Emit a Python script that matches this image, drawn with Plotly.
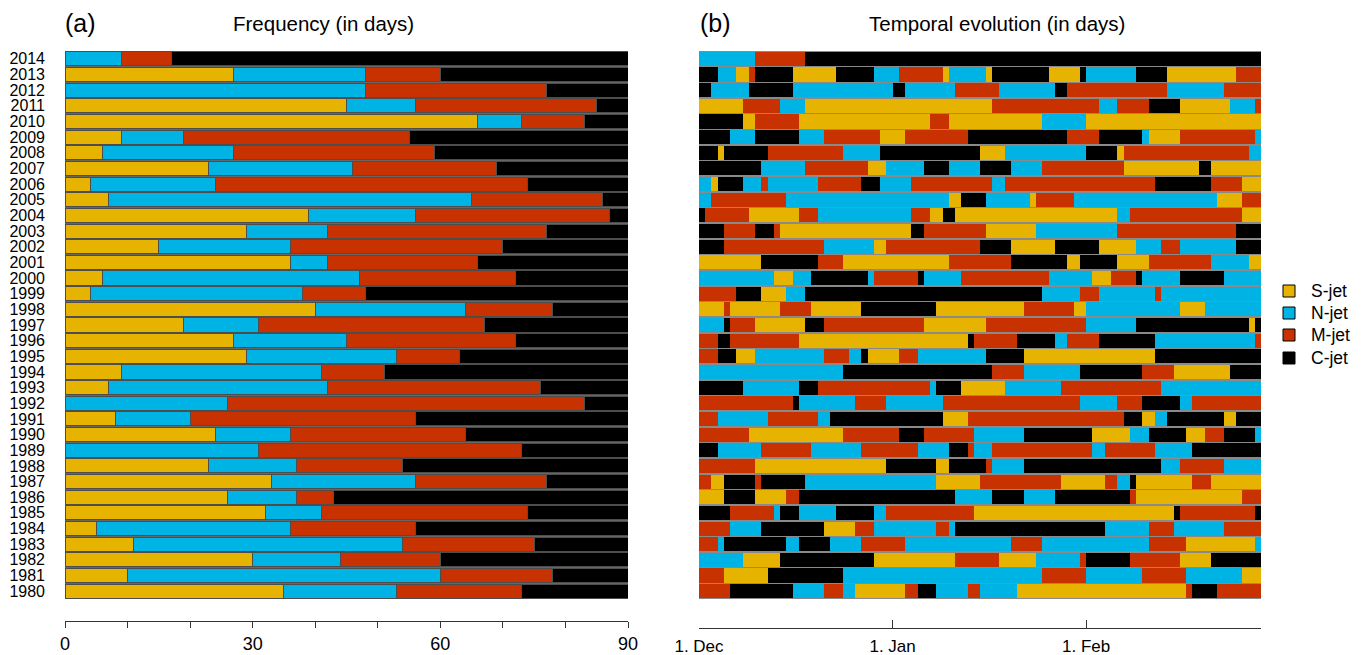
import plotly.graph_objects as go

W, H = 1363, 655

def fx(p):
    return p / W

def fy(p):
    return 1 - p / H

years = list(range(1980, 2015))

jet_names = ["S-jet", "N-jet", "M-jet", "C-jet"]
jet_codes = ["S", "N", "M", "C"]
jet_colors = ["#E6B400", "#00B3E5", "#C83200", "#000000"]

# Panel (a): number of days per jet type, winters 1980..2014
s_days = [35, 10, 30, 11, 5, 32, 26, 33, 23, 0, 24, 8, 0, 7, 9, 29, 27, 19, 40, 4,
          6, 36, 15, 29, 39, 7, 4, 23, 6, 9, 66, 45, 0, 27, 0]
n_days = [18, 50, 14, 43, 31, 9, 11, 23, 14, 31, 12, 12, 26, 35, 32, 24, 18, 12, 24, 34,
          41, 6, 21, 13, 17, 58, 20, 23, 21, 10, 7, 11, 48, 21, 9]
m_days = [20, 18, 16, 21, 20, 33, 6, 21, 17, 42, 28, 36, 57, 34, 10, 10, 27, 36, 14, 10,
          25, 24, 34, 35, 31, 21, 50, 23, 32, 36, 10, 29, 29, 12, 8]
c_days = [17, 12, 30, 15, 34, 16, 47, 13, 36, 17, 26, 34, 7, 14, 39, 27, 18, 23, 12, 42,
          18, 24, 20, 13, 3, 4, 16, 21, 31, 35, 7, 5, 13, 30, 73]

# Panel (b): day-by-day sequence of jet types (type + run length in days), from 1 Dec
sequences = {
    2014: "N9 M8 C73",
    2013: "C3 N3 S2 M1 C6 S7 C6 N4 M7 S1 N6 S1 C9 S5 C1 N8 C5 S11 M4",
    2012: "C2 N6 C7 N16 C2 N8 M7 N9 C2 M16 N9 M6",
    2011: "S7 M6 N4 S30 M17 N3 M5 C5 S8 N4 M1",
    2010: "C7 S2 M7 S21 M3 S15 N7 S28",
    2009: "C5 N4 C7 N4 M9 S4 M10 C16 M5 C7 N1 S5 M12 N1",
    2008: "C3 S1 C7 M12 N6 C16 S4 N13 C5 S1 M20 N2",
    2007: "C10 N7 M10 S3 N6 C4 N5 C5 N5 M13 S12 C2 S8",
    2006: "N2 S1 C4 N3 M1 N8 M7 C3 N5 M13 N2 M24 C9 M5 S3",
    2005: "N2 M12 N26 S2 C4 N7 S1 M6 N23 S4 M3",
    2004: "C1 M7 S8 M3 N15 M3 S2 C2 S26 N2 M18 S3",
    2003: "C4 M5 C3 M1 S21 C2 M10 S8 N13 M19 C4",
    2002: "C4 M16 N8 S2 M15 C5 S7 C7 S6 N4 M3 N9 C4",
    2001: "S10 C9 M4 S17 M10 C9 S2 C6 S5 M10 N6 S2",
    2000: "N12 S3 N3 C9 N1 M7 C1 N6 M14 N7 S3 M4 C1 N6 C7 N6",
    1999: "M6 C4 S4 N3 C38 N6 M3 N9 M1 N16",
    1998: "S4 M1 S8 M5 S8 C12 S14 M8 S2 N15 S4 N9",
    1997: "N4 C1 M4 S8 C3 M16 S10 M16 N8 C18 S1 C1",
    1996: "M3 C2 M11 S27 C1 M7 C6 N2 M5 C9 N16 M1",
    1995: "M3 C3 S3 N11 M4 N2 C1 S5 M3 N11 C6 S21 C17",
    1994: "N23 C24 M5 N9 C10 M5 S9 C5",
    1993: "C7 N9 C3 M18 N1 C4 S7 N9 M16 N16",
    1992: "M15 C1 N9 M5 N9 M22 N6 M4 C6 N2 M11",
    1991: "M3 N8 M8 N2 C18 S4 M25 C3 S2 N2 C9 S2 C4",
    1990: "M8 S15 M9 C4 M8 N8 C11 S6 N3 C6 S3 M3 C5 N1",
    1989: "C3 N7 M8 N8 M9 N5 C3 M1 N3 M16 N2 M8 N6 C11",
    1988: "M9 S21 C8 S2 C6 M1 N5 C22 N3 M7 N6",
    1987: "M2 S2 C5 M1 C7 N21 S7 M13 S7 M2 N2 C1 S9 M3 S8",
    1986: "S4 C5 S5 M2 C25 N6 C5 N5 C12 M1 S17 M3",
    1985: "C5 M7 N1 C3 N6 C6 N2 M14 S32 C1 M12 C1",
    1984: "M5 N5 C10 S5 M3 N10 M2 N1 C24 N7 M4 N8 M6",
    1983: "M3 N1 C10 N2 C5 N5 M7 N17 M5 N17 M6 S11 N1",
    1982: "N7 S6 C15 S13 M7 S6 N7 M1 C7 M8 S5 C8",
    1981: "M4 S7 C12 N32 M7 N9 M7 N9 S3",
    1980: "M5 C10 N5 M3 N2 S8 M2 C3 N5 M2 N6 S27 M1 C4 M7",
}

freq_ticks = [0, 10, 20, 30, 40, 50, 60, 70, 80, 90]
freq_labels = ["0", "", "", "30", "", "", "60", "", "", "90"]
date_ticks = [0, 31, 62]
date_labels = ["1. Dec", "1. Jan", "1. Feb"]

FONT = "Liberation Sans, Arial, Helvetica, sans-serif"

fig = go.Figure()

# ---- panel (a): stacked frequency bars
for name, color, vals in zip(jet_names, jet_colors, [s_days, n_days, m_days, c_days]):
    fig.add_trace(go.Bar(
        y=years, x=vals, orientation="h", name=name,
        marker=dict(color=color, line=dict(color="#4d4d4d", width=1)),
        xaxis="x", yaxis="y", showlegend=False, hoverinfo="x+y+name",
    ))

# ---- panel (b): temporal evolution segments
segs = {c: {"y": [], "base": [], "x": []} for c in jet_codes}
for yr in years:
    pos = 0
    for tok in sequences[yr].split():
        code, n = tok[0], int(tok[1:])
        segs[code]["y"].append(yr)
        segs[code]["base"].append(pos)
        segs[code]["x"].append(n)
        pos += n

for name, code, color in zip(jet_names, jet_codes, jet_colors):
    d = segs[code]
    fig.add_trace(go.Bar(
        y=d["y"], x=d["x"], base=d["base"], orientation="h", name=name,
        marker=dict(color=color, line=dict(width=0)),
        xaxis="x2", yaxis="y2", showlegend=False, hoverinfo="name+y",
    ))

ydom = [fy(599), fy(51)]
yrange = [1979.5, 2014.5]

fig.update_layout(
    width=W, height=H, autosize=False,
    margin=dict(l=0, r=0, t=0, b=0, pad=0),
    paper_bgcolor="white", plot_bgcolor="white",
    barmode="stack", bargap=0.1,
    font=dict(family=FONT, color="black"),
    xaxis=dict(
        domain=[fx(65), fx(628)], range=[0, 90], anchor="free", position=fy(621),
        showline=True, linecolor="#333", linewidth=1.3,
        ticks="outside", ticklen=6, tickcolor="#333", tickwidth=1.3,
        tickvals=freq_ticks, ticktext=freq_labels, tickfont=dict(size=18),
        showgrid=False, zeroline=False, fixedrange=True, automargin=False,
    ),
    yaxis=dict(
        domain=ydom, range=yrange, anchor="x",
        tickvals=years, ticktext=[str(y) for y in years], tickfont=dict(size=16),
        ticks="", showline=False, showgrid=False, zeroline=False,
        ticklabelstandoff=19, fixedrange=True, automargin=False,
    ),
    xaxis2=dict(
        domain=[fx(699), fx(1261)], range=[0, 90], anchor="free", position=fy(628),
        showline=True, linecolor="#333", linewidth=1.3,
        ticks="inside", ticklen=8, tickcolor="#333", tickwidth=1.3,
        tickvals=date_ticks, ticktext=date_labels, tickfont=dict(size=17),
        ticklabelstandoff=2,
        showgrid=False, zeroline=False, fixedrange=True, automargin=False,
    ),
    yaxis2=dict(
        domain=ydom, range=yrange, anchor="x2",
        showticklabels=False, ticks="", showline=False, showgrid=False,
        zeroline=False, fixedrange=True, automargin=False,
    ),
)

shapes = [
    dict(type="rect", xref="x", yref="y", x0=0, x1=90, y0=yrange[0], y1=yrange[1],
         fillcolor="#666666", line=dict(width=0), layer="below"),
    dict(type="rect", xref="x2", yref="y2", x0=-0.15, x1=90.15, y0=yrange[0], y1=yrange[1],
         fillcolor="#8a8a8a", line=dict(width=0), layer="below"),
]
annotations = [
    dict(text="(a)", x=fx(63), y=fy(23), xref="paper", yref="paper",
         xanchor="left", yanchor="middle", showarrow=False, font=dict(size=25)),
    dict(text="Frequency (in days)", x=fx(231), y=fy(24), xref="paper", yref="paper",
         xanchor="left", yanchor="middle", showarrow=False, font=dict(size=20.5)),
    dict(text="(b)", x=fx(698), y=fy(23), xref="paper", yref="paper",
         xanchor="left", yanchor="middle", showarrow=False, font=dict(size=25)),
    dict(text="Temporal evolution (in days)", x=fx(867), y=fy(24), xref="paper", yref="paper",
         xanchor="left", yanchor="middle", showarrow=False, font=dict(size=20.5)),
]

# legend (drawn manually to match the reference placement)
leg_y = [291, 313, 335, 358]
for name, color, yc in zip(jet_names, jet_colors, leg_y):
    shapes.append(dict(type="rect", xref="paper", yref="paper",
                       x0=fx(1283), x1=fx(1295), y0=fy(yc + 6), y1=fy(yc - 6),
                       fillcolor=color, line=dict(color="black", width=1)))
    annotations.append(dict(text=name, x=fx(1309), y=fy(yc), xref="paper", yref="paper",
                            xanchor="left", yanchor="middle", showarrow=False,
                            font=dict(size=17.5)))

fig.update_layout(shapes=shapes, annotations=annotations)

fig.write_html("out.html", config={"displayModeBar": False},
               post_script="document.body.style.margin='0px';")
